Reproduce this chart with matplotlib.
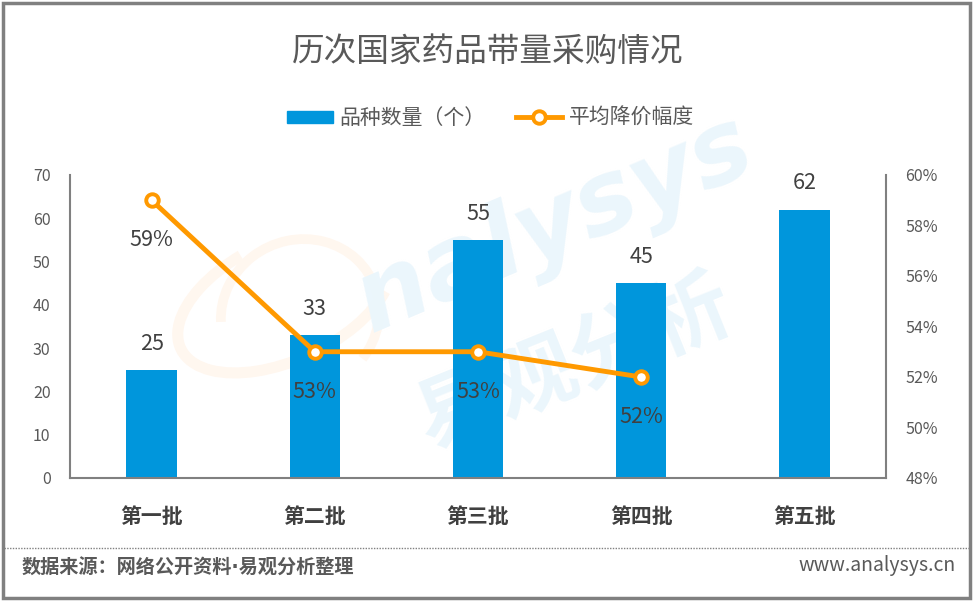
import matplotlib.pyplot as plt
import matplotlib.patches as mpatches
from matplotlib.lines import Line2D

plt.rcParams['font.family'] = ['Noto Sans CJK SC', 'DejaVu Sans']

categories = ['第一批', '第二批', '第三批', '第四批', '第五批']
counts = [25, 33, 55, 45, 62]
cut_pct = [59, 53, 53, 52]
pct_labels = ['59%', '53%', '53%', '52%']
left_ticks = [0, 10, 20, 30, 40, 50, 60, 70]
right_ticks = [48, 50, 52, 54, 56, 58, 60]

BLUE = '#0096dc'
ORANGE = '#ff9900'
GRAY = '#808080'
TXT = '#595959'

fig = plt.figure(figsize=(9.75, 6.03), dpi=100)

# background layer: frame + watermark
bg = fig.add_axes([0, 0, 1, 1], zorder=-1)
bg.set_xlim(0, 975)
bg.set_ylim(603, 0)
bg.axis('off')
bg.add_patch(mpatches.Rectangle((3, 3), 967, 595, fill=False, edgecolor=GRAY, linewidth=2.5))
bg.text(555, 225, 'nalysys', fontsize=72, color='#ebf6fc', rotation=23,
        ha='center', va='center', style='italic', fontweight='bold', family='DejaVu Sans')
bg.text(575, 365, '易观分析', fontsize=60, color='#ebf6fc', rotation=22,
        ha='center', va='center', fontweight='bold')
bg.add_patch(mpatches.Arc((285, 300), 230, 120, angle=-25, theta1=20, theta2=250,
                          color='#fff7ef', linewidth=8))
bg.add_patch(mpatches.Arc((300, 315), 160, 150, angle=-25, theta1=200, theta2=420,
                          color='#fff7ef', linewidth=7))

ax = fig.add_axes([0.0718, 0.2073, 0.8369, 0.5025])
ax.patch.set_alpha(0)
x = list(range(len(categories)))
ax.bar(x, counts, width=0.31, color=BLUE, zorder=2)
for xi, v in zip(x, counts):
    ax.annotate(str(v), (xi, v), xytext=(0, 11), textcoords='offset points',
                ha='center', va='bottom', fontsize=15.5, color='#404040')
ax.set_xlim(-0.5, 4.5)
ax.set_ylim(0, 70)
ax.set_yticks(left_ticks)
ax.set_xticks(x)
ax.set_xticklabels(categories, fontsize=15, fontweight='bold', color='#404040')
ax.tick_params(axis='x', length=0, pad=20)
ax.tick_params(axis='y', length=0, pad=14, labelsize=11.5, labelcolor=TXT)
for s in ['top', 'right']:
    ax.spines[s].set_visible(False)
for s in ['left', 'bottom']:
    ax.spines[s].set_color(GRAY)
    ax.spines[s].set_linewidth(1.5)

ax2 = ax.twinx()
ax2.plot(x[:len(cut_pct)], cut_pct, color=ORANGE, linewidth=3.5, marker='o', markersize=9,
         markerfacecolor='white', markeredgecolor=ORANGE, markeredgewidth=2.8, zorder=3)
for xi, v, lab in zip(x, cut_pct, pct_labels):
    ax2.annotate(lab, (xi, v), xytext=(0, -21), textcoords='offset points',
                 ha='center', va='top', fontsize=15.5, color='#404040')
ax2.set_ylim(48, 60)
ax2.set_yticks(right_ticks)
ax2.set_yticklabels([f'{t}%' for t in right_ticks])
ax2.tick_params(axis='y', length=0, pad=14, labelsize=11.5, labelcolor=TXT)
for s in ['top', 'left', 'bottom']:
    ax2.spines[s].set_visible(False)
ax2.spines['right'].set_color(GRAY)
ax2.spines['right'].set_linewidth(1.5)

fig.text(0.5, 0.914, '历次国家药品带量采购情况', ha='center', va='center', fontsize=23.5, color=TXT)

handles = [mpatches.Patch(color=BLUE, label='品种数量（个）'),
           Line2D([], [], color=ORANGE, linewidth=3.5, marker='o', markersize=9,
                  markerfacecolor='white', markeredgewidth=2.8, label='平均降价幅度')]
fig.legend(handles=handles, loc='center', bbox_to_anchor=(0.503, 0.804), ncol=2, frameon=False,
           fontsize=15, labelcolor=TXT, handlelength=2.2, handleheight=0.55,
           columnspacing=1.5, handletextpad=0.3)

fig.add_artist(Line2D([0.004, 0.995], [0.091, 0.091], transform=fig.transFigure,
                      color=GRAY, linewidth=1, linestyle=(0, (1, 1))))
fig.text(0.022, 0.058, '数据来源：网络公开资料·易观分析整理', ha='left', va='center',
         fontsize=13.8, color=TXT, fontweight='bold', family=['DejaVu Sans', 'Noto Sans CJK SC'])
fig.text(0.980, 0.062, 'www.analysys.cn', ha='right', va='center', fontsize=14, color=TXT)

fig.savefig('out.png', dpi=100)
